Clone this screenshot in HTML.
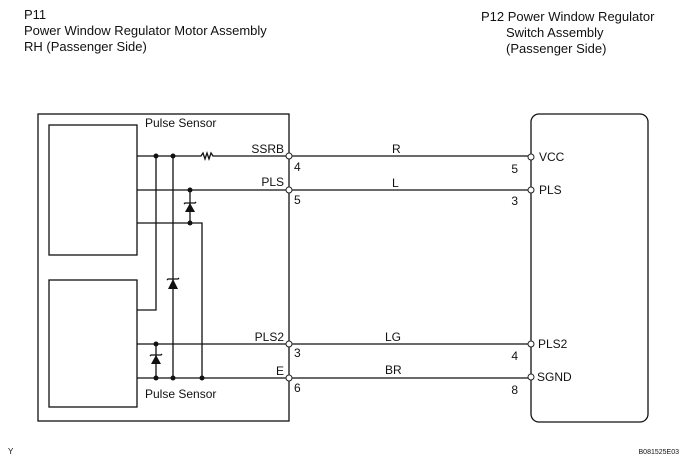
<!DOCTYPE html>
<html><head><style>body{margin:0;background:#fff}svg{display:block}text{font-family:"Liberation Sans",sans-serif;fill:#111}</style></head><body>
<svg width="687" height="463" viewBox="0 0 687 463" xmlns="http://www.w3.org/2000/svg">
<g font-size="13">
<text x="24" y="19">P11</text>
<text x="24" y="35">Power Window Regulator Motor Assembly</text>
<text x="24" y="51">RH (Passenger Side)</text>
<text x="481" y="21">P12 Power Window Regulator</text>
<text x="506" y="37">Switch Assembly</text>
<text x="506" y="53">(Passenger Side)</text>
</g>
<g fill="none" stroke="#111" stroke-width="1.3">
<rect x="38" y="114" width="251" height="307"/>
<rect x="49" y="125" width="88" height="130"/>
<rect x="49" y="280" width="88" height="127"/>
<rect x="531" y="114" width="117" height="308" rx="8"/>
<path d="M137 156H201l2-3 2 6 2-6 2 6 2-6 2 3H286"/>
<path d="M137 190H286"/>
<path d="M137 223H202V378"/>
<path d="M137 310H156V156"/>
<path d="M173 156V378"/>
<path d="M190 190V223"/>
<path d="M137 344H286"/>
<path d="M137 378H286"/>
<path d="M156 344V378"/>
<path d="M292 156H528M292 190H528M292 344H528M292 378H528"/>
</g>
<g fill="#111">
<circle cx="156" cy="156" r="2.5"/><circle cx="173" cy="156" r="2.5"/>
<circle cx="190" cy="190" r="2.5"/><circle cx="190" cy="223" r="2.5"/>
<circle cx="156" cy="344" r="2.5"/><circle cx="156" cy="378" r="2.5"/>
<circle cx="173" cy="378" r="2.5"/><circle cx="202" cy="378" r="2.5"/>
<polygon points="190,203 185,212 195,212"/>
<polygon points="173,279 168,289 178,289"/>
<polygon points="156,355 151,364 161,364"/>
</g>
<g stroke="#111" stroke-width="1.3" fill="none">
<path d="M184 204L185 203H195L196 202"/>
<path d="M167 280L168 279H178L179 278"/>
<path d="M150 356L151 355H161L162 354"/>
</g>
<g fill="#fff" stroke="#222" stroke-width="1">
<circle cx="289" cy="156" r="3"/><circle cx="289" cy="190" r="3"/><circle cx="289" cy="344" r="3"/><circle cx="289" cy="378" r="3"/>
<circle cx="531" cy="157" r="3"/><circle cx="531" cy="190" r="3"/><circle cx="531" cy="344" r="3"/><circle cx="531" cy="377" r="3"/>
</g>
<g font-size="12">
<text x="145" y="127">Pulse Sensor</text>
<text x="145" y="398">Pulse Sensor</text>
<text x="284" y="153" text-anchor="end">SSRB</text>
<text x="284" y="186" text-anchor="end">PLS</text>
<text x="284" y="341" text-anchor="end">PLS2</text>
<text x="284" y="375" text-anchor="end">E</text>
<text x="294" y="171">4</text><text x="294" y="204">5</text><text x="294" y="357">3</text><text x="294" y="392">6</text>
<text x="392" y="153">R</text><text x="392" y="187">L</text><text x="385" y="341">LG</text><text x="385" y="374">BR</text>
<text x="518" y="173" text-anchor="end">5</text><text x="518" y="205" text-anchor="end">3</text>
<text x="518" y="360" text-anchor="end">4</text><text x="518" y="394" text-anchor="end">8</text>
<text x="539" y="161">VCC</text><text x="539" y="194">PLS</text><text x="538" y="348">PLS2</text><text x="537" y="381">SGND</text>
</g>
<text x="8" y="454" font-size="8">Y</text>
<text x="679" y="454" font-size="7" text-anchor="end">B081525E03</text>
</svg>
</body></html>
